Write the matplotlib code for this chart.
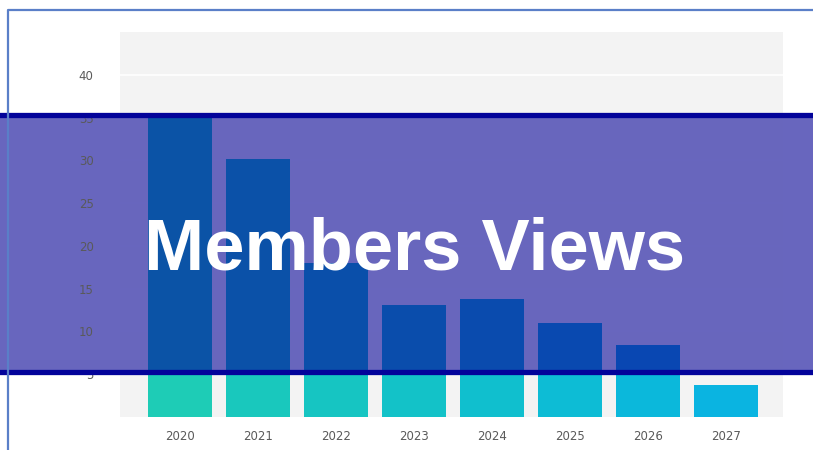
import matplotlib
matplotlib.use("Agg")
import matplotlib.pyplot as plt
from matplotlib.patches import Rectangle
from matplotlib.lines import Line2D

years = ["2020", "2021", "2022", "2023", "2024", "2025", "2026", "2027"]
values = [35.5, 30.1, 18.0, 13.1, 13.8, 11.0, 8.4, 3.75]
yticks = [5, 10, 15, 20, 25, 30, 35, 40]
title = "Members Views"

bar_colors = ["#1ECCB6", "#19C8BD", "#16C5C2", "#13C2C8", "#10BFCE", "#0DBCD5", "#0BB8DB", "#0AB4E1"]
bar_colors_banner = ["#0B53A6", "#0B51A8", "#0A4FAA", "#0A4DAC", "#0A4BAE", "#0949B0", "#0947B2", "#0845B4"]

W, H = 813, 450
fig = plt.figure(figsize=(W / 100, H / 100), dpi=100)
fig.patch.set_facecolor("white")

ax = fig.add_axes([120 / W, 1 - 417 / H, (783 - 120) / W, (417 - 32) / H])
ax.set_facecolor("#f3f3f3")
for s in ax.spines.values():
    s.set_visible(False)

x = list(range(len(years)))
ax.set_xlim(-0.77, 7.73)
ax.set_ylim(0, 45)

for t in yticks:
    ax.axhline(t, color="white", lw=1.2, zorder=0.8)

# banner (figure coordinates)
b_top, b_bot = 114.5, 371.5
banner = Rectangle((0, 1 - b_bot / H), 1, (b_bot - b_top) / H, transform=fig.transFigure,
                   facecolor="#6361BC", edgecolor="none", alpha=0.97, zorder=1.2, clip_on=False)
ax.add_patch(banner)

bars = ax.bar(x, values, width=0.82, color=bar_colors, zorder=2)
clip_rect = Rectangle((0, 1 - b_bot / H), 1, (b_bot - b_top) / H, transform=fig.transFigure,
                      facecolor="none", edgecolor="none")
over = ax.bar(x, values, width=0.82, color=bar_colors_banner, zorder=2.05)
for b in over:
    b.set_clip_path(clip_rect)

for yy in (b_top, b_bot):
    ax.add_line(Line2D([0, 1], [1 - yy / H, 1 - yy / H], transform=fig.transFigure,
                       color="#03039A", lw=3.8, zorder=3, clip_on=False))

ax.set_xticks(x)
ax.set_xticklabels(years)
ax.set_yticks(yticks)
ax.tick_params(axis="both", length=0, labelsize=8.5, labelcolor="#5a5a5a")
ax.tick_params(axis="x", pad=9)
ax.tick_params(axis="y", pad=19)

# blue frame
fig.add_artist(Line2D([8 / W, 8 / W, 1.0], [0.0, 1 - 9.5 / H, 1 - 9.5 / H],
                      transform=fig.transFigure, color="#5A7FC8", lw=1.6))

fig.text(414.5 / W, 1 - 270 / H, title, ha="center", va="baseline", color="white",
         fontsize=52, fontweight="bold", family=["Liberation Sans", "DejaVu Sans"], zorder=5)

fig.savefig("out.png", dpi=100)
